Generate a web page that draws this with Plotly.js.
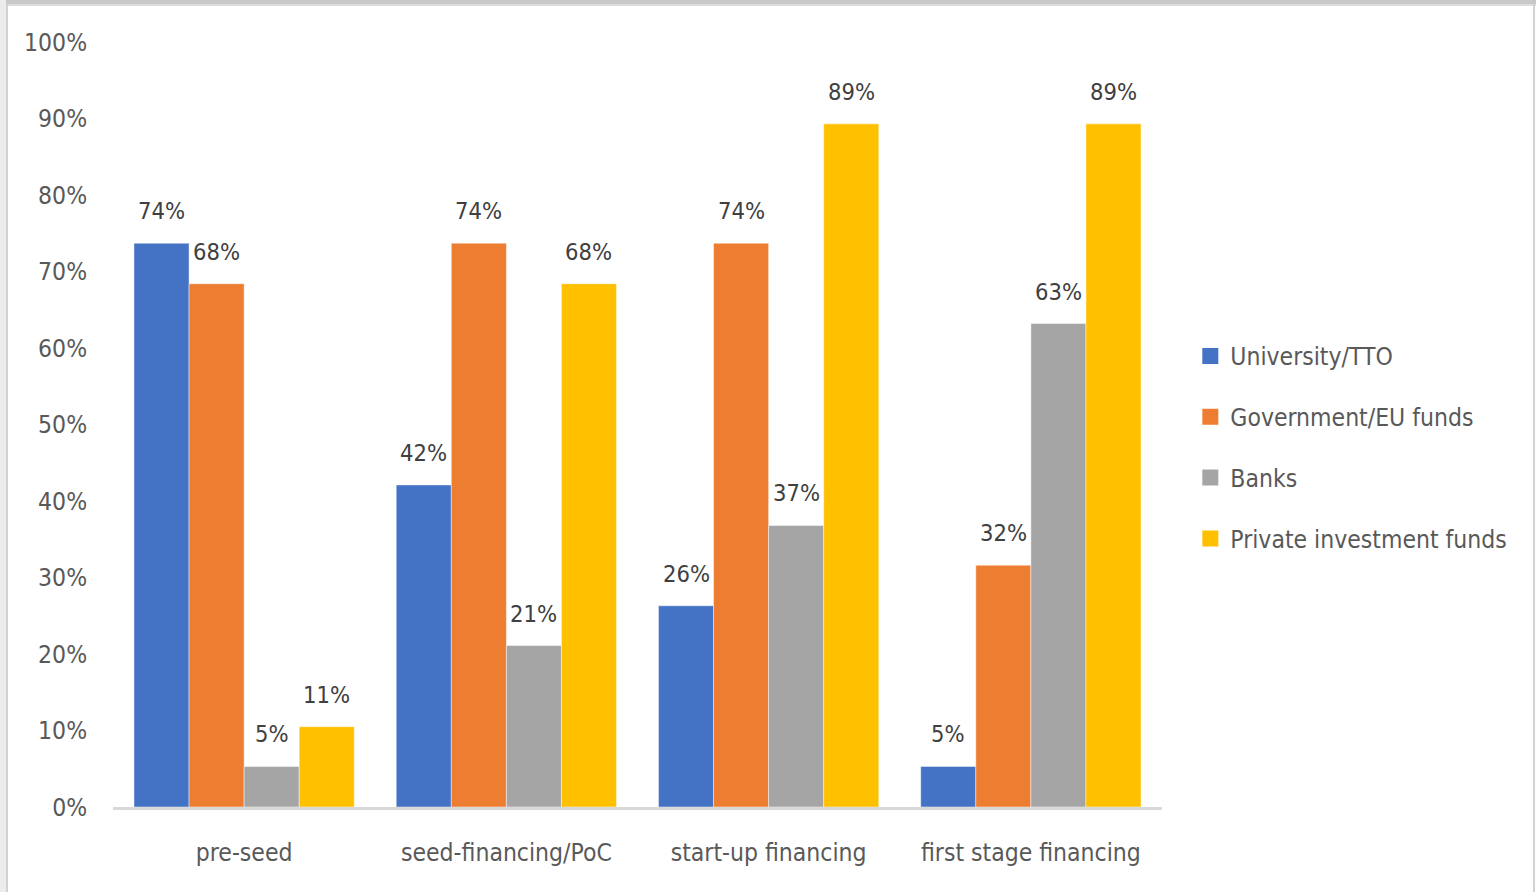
<!DOCTYPE html>
<html>
<head>
<meta charset="utf-8">
<script src="https://cdn.plot.ly/plotly-3.0.1.min.js"></script>
<style>
  html, body { margin: 0; padding: 0; background: #ffffff; overflow: hidden; }
  #chart { position: absolute; left: 0; top: 0; width: 1536px; height: 892px; }
  .edge { position: absolute; pointer-events: none; z-index: 10; }
</style>
</head>
<body>
<div id="chart"></div>
<div class="edge" style="left:0;top:0;width:1536px;height:4px;background:#c8c8c8;"></div>
<div class="edge" style="left:0;top:4px;width:1536px;height:2px;background:#dcdcdc;"></div>
<div class="edge" style="left:0;top:0;width:6px;height:892px;background:#ececec;"></div>
<div class="edge" style="left:6px;top:4px;width:2px;height:888px;background:#d2d2d2;"></div>
<div class="edge" style="left:1533px;top:4px;width:2px;height:888px;background:#d2d2d2;"></div>
<script>
const categories = ['pre-seed', 'seed-financing/PoC', 'start-up financing', 'first stage financing'];
const seriesNames = ['University/TTO', 'Government/EU funds', 'Banks', 'Private investment funds'];
const university = [0.737, 0.421, 0.263, 0.053];
const government = [0.684, 0.737, 0.737, 0.316];
const banks = [0.053, 0.211, 0.368, 0.632];
const privateFunds = [0.105, 0.684, 0.893, 0.893];
const yTickValues = [0, 0.1, 0.2, 0.3, 0.4, 0.5, 0.6, 0.7, 0.8, 0.9, 1.0];

const colors = ['#4472C4', '#ED7D31', '#A5A5A5', '#FFC000'];
const FONT = 'Liberation Sans Narrow, Arial Narrow, DejaVu Sans Condensed, sans-serif';
const allSeries = [university, government, banks, privateFunds];

const bargap = 0.16;
const traces = allSeries.map((vals, i) => ({
  type: 'bar',
  name: seriesNames[i],
  x: categories,
  y: vals,
  marker: { color: colors[i], line: { color: 'rgba(255,255,255,0.6)', width: 0.75 } },
  showlegend: false,
  hoverinfo: 'skip'
}));

// legend entries (square swatches)
seriesNames.forEach((nm, i) => {
  traces.push({
    type: 'scatter', mode: 'markers', name: nm,
    x: [null], y: [null],
    marker: { symbol: 'square', size: 16, color: colors[i] },
    legendgroup: 'g' + i, showlegend: true, hoverinfo: 'skip'
  });
});

const barW = (1 - bargap) / allSeries.length;
const annotations = [];
allSeries.forEach((vals, i) => {
  const off = -((1 - bargap) / 2) + barW * (i + 0.5);
  vals.forEach((v, c) => {
    annotations.push({
      x: c + off, y: v, xref: 'x', yref: 'y',
      text: Math.round(v * 100) + '%',
      showarrow: false, yanchor: 'bottom', xanchor: 'center', yshift: 16,
      font: { family: FONT, size: 23.5, color: '#404040' }
    });
  });
});

const layout = {
  width: 1536, height: 892,
  margin: { l: 113, r: 374, t: 42, b: 85, autoexpand: false },
  paper_bgcolor: '#ffffff', plot_bgcolor: '#ffffff',
  barmode: 'group', bargap: bargap, bargroupgap: 0,
  font: { family: FONT, size: 24.5, color: '#595959' },
  xaxis: {
    type: 'category',
    showgrid: false, zeroline: false,
    showline: true, linecolor: '#d9d9d9', linewidth: 3,
    ticks: 'outside', ticklen: 22, tickcolor: 'rgba(0,0,0,0)',
    tickfont: { family: FONT, size: 24.5, color: '#595959' },
    fixedrange: true
  },
  yaxis: {
    range: [0, 1],
    tickvals: yTickValues,
    tickformat: '.0%',
    showgrid: false, zeroline: false, showline: false,
    ticks: 'outside', ticklen: 20, tickcolor: 'rgba(0,0,0,0)',
    tickfont: { family: FONT, size: 24.5, color: '#595959' },
    fixedrange: true
  },
  legend: {
    x: 1.027, xanchor: 'left', y: 0.47, yanchor: 'middle',
    font: { family: FONT, size: 24.5, color: '#595959' },
    tracegroupgap: 26, itemwidth: 30, itemsizing: 'trace',
    bgcolor: 'rgba(0,0,0,0)'
  },
  annotations: annotations,
  showlegend: true
};

Plotly.newPlot('chart', traces, layout, { displayModeBar: false, staticPlot: true });
</script>
</body>
</html>
